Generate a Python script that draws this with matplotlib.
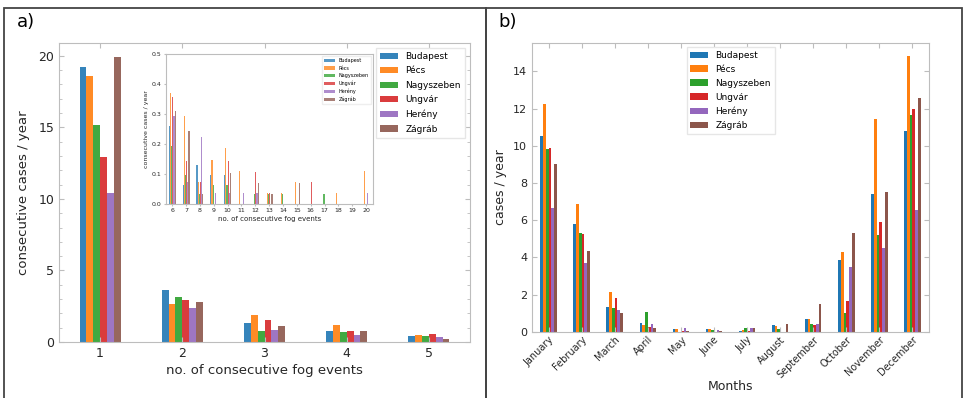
import matplotlib
matplotlib.use("Agg")
import matplotlib.pyplot as plt
import numpy as np
from matplotlib.patches import Rectangle
from matplotlib.ticker import MultipleLocator

cities = ["Budapest", "Pécs", "Nagyszeben", "Ungvár", "Herény", "Zágráb"]
colors = ["tab:blue", "tab:orange", "tab:green", "tab:red", "tab:purple", "tab:brown"]

# a) main: runs of 1..5 consecutive fog events
runs = [1, 2, 3, 4, 5]
runs_vals = {
    "Budapest":   [19.25, 3.66, 1.31, 0.75, 0.42],
    "Pécs":       [18.60, 2.63, 1.86, 1.17, 0.47],
    "Nagyszeben": [15.15, 3.12, 0.77, 0.68, 0.42],
    "Ungvár":     [12.95, 2.91, 1.56, 0.79, 0.58],
    "Herény":     [10.45, 2.35, 0.86, 0.47, 0.33],
    "Zágráb":     [19.90, 2.82, 1.14, 0.75, 0.23],
}

# a) inset: runs of 6..20
long_runs = list(range(6, 21))
long_vals = {
    "Budapest":   [0.259, 0.064, 0.129, 0.097, 0.097, 0, 0, 0, 0, 0, 0, 0, 0, 0, 0],
    "Pécs":       [0.370, 0.295, 0.074, 0.148, 0.186, 0.111, 0, 0.037, 0.037, 0.074, 0, 0, 0.037, 0, 0.111],
    "Nagyszeben": [0.194, 0.096, 0.032, 0.064, 0.064, 0, 0.033, 0.033, 0.033, 0, 0, 0.033, 0, 0, 0],
    "Ungvár":     [0.356, 0.143, 0.072, 0, 0.143, 0, 0.107, 0.037, 0, 0, 0.073, 0, 0, 0, 0],
    "Herény":     [0.295, 0.074, 0.222, 0.037, 0.037, 0.037, 0.037, 0, 0, 0, 0, 0, 0, 0, 0.037],
    "Zágráb":     [0.310, 0.242, 0.035, 0, 0.104, 0, 0.071, 0.035, 0, 0.071, 0, 0, 0, 0, 0],
}

# b) monthly cases
months = ["January", "February", "March", "April", "May", "June", "July",
          "August", "September", "October", "November", "December"]
month_vals = {
    "Budapest":   [10.52, 5.81, 1.33, 0.45, 0.13, 0.13, 0.06, 0.36, 0.68, 3.83, 7.40, 10.81],
    "Pécs":       [12.26, 6.85, 2.13, 0.36, 0.16, 0.13, 0.10, 0.29, 0.68, 4.27, 11.42, 14.80],
    "Nagyszeben": [9.82, 5.32, 1.29, 1.04, 0.0, 0.07, 0.18, 0.16, 0.39, 0.99, 5.20, 11.63],
    "Ungvár":     [9.86, 5.25, 1.81, 0.25, 0.02, 0.0, 0.04, 0.0, 0.38, 1.65, 5.88, 11.99],
    "Herény":     [6.67, 3.67, 1.15, 0.41, 0.18, 0.09, 0.18, 0.0, 0.43, 3.48, 4.50, 6.57],
    "Zágráb":     [9.01, 4.32, 0.99, 0.22, 0.05, 0.06, 0.22, 0.39, 1.49, 5.29, 7.53, 12.56],
}

TXT = "#262626"
SPINE = "#bdbdbd"


def grouped_bars(ax, x, data, alpha=1.0, group_w=0.5):
    w = group_w / len(cities)
    x = np.asarray(x, dtype=float)
    for i, c in enumerate(cities):
        ax.bar(x + (i - 2.5) * w, data[c], width=w, color=colors[i], alpha=alpha, label=c)


def style(ax):
    for s in ax.spines.values():
        s.set_color(SPINE)
    ax.tick_params(colors=SPINE, labelcolor=TXT, top=True, right=True, direction="in")
    ax.tick_params(which="minor", colors=SPINE, right=True, direction="in", length=2)


fig = plt.figure(figsize=(9.65, 3.98), dpi=100)

# panel frames
for x0, x1 in [(4, 486), (486, 962)]:
    fig.add_artist(Rectangle((x0 / 965, -0.1), (x1 - x0) / 965, 1.1 - 8 / 398,
                             transform=fig.transFigure, fill=False,
                             edgecolor="#444444", linewidth=1.3))
fig.text(17 / 965, 1 - 22 / 398, "a)", fontsize=13, va="center", color="black")
fig.text(498 / 965, 1 - 22 / 398, "b)", fontsize=13, va="center", color="black")

# ---- a) main
ax = fig.add_axes([59 / 965, 56 / 398, 411 / 965, 299 / 398])
grouped_bars(ax, runs, runs_vals, alpha=0.9)
ax.set_xlim(0.5, 5.5)
ax.set_ylim(0, 20.9)
ax.set_xticks(runs)
ax.set_yticks([0, 5, 10, 15, 20])
ax.yaxis.set_minor_locator(MultipleLocator(1))
style(ax)
ax.tick_params(labelsize=9)
ax.set_xlabel("no. of consecutive fog events", fontsize=9.5, color=TXT, labelpad=3)
ax.set_ylabel("consecutive cases / year", fontsize=9.5, color=TXT, labelpad=6)
ax.legend(loc="upper right", fontsize=6.5, handlelength=2.0, borderpad=0.5,
          labelspacing=0.6, framealpha=1, edgecolor="#e6e6e6", fancybox=False)

# ---- a) inset
ins = fig.add_axes([166 / 965, 194 / 398, 207 / 965, 150 / 398])
grouped_bars(ins, long_runs, long_vals, alpha=0.75)
ins.set_xlim(5.55, 20.5)
ins.set_ylim(0, 0.5)
ins.set_xticks(long_runs)
ins.set_yticks([0, 0.1, 0.2, 0.3, 0.4, 0.5])
for s in ins.spines.values():
    s.set_color(SPINE)
ins.tick_params(colors=SPINE, labelcolor=TXT, labelsize=4.5, length=1.5, pad=1.5)
ins.set_xlabel("no. of consecutive fog events", fontsize=5, color=TXT, labelpad=2)
ins.set_ylabel("consecutive cases / year", fontsize=4.5, color=TXT, labelpad=2)
ins.legend(loc="upper right", fontsize=3.5, handlelength=2.2, labelspacing=0.5,
           framealpha=1, edgecolor="#eeeeee", fancybox=False)

# ---- b)
bx = fig.add_axes([532 / 965, 66.3 / 398, 397 / 965, 289 / 398])
grouped_bars(bx, np.arange(len(months)), month_vals, alpha=1.0)
bx.set_xlim(-0.5, 11.5)
bx.set_ylim(0, 15.54)
bx.set_xticks(np.arange(len(months)))
bx.set_xticklabels(months, rotation=45, ha="right", rotation_mode="anchor")
bx.set_yticks([0, 2, 4, 6, 8, 10, 12, 14])
style(bx)
bx.tick_params(axis="y", labelsize=8)
bx.tick_params(axis="x", labelsize=7, pad=2)
bx.set_xlabel("Months", fontsize=9, color=TXT, labelpad=0)
bx.set_ylabel("cases / year", fontsize=9, color=TXT, labelpad=4)
bx.legend(loc="upper center", fontsize=6.5, handlelength=2.0, labelspacing=0.55,
          framealpha=1, edgecolor="#e6e6e6", fancybox=False)

fig.savefig("out.png", dpi=100)
